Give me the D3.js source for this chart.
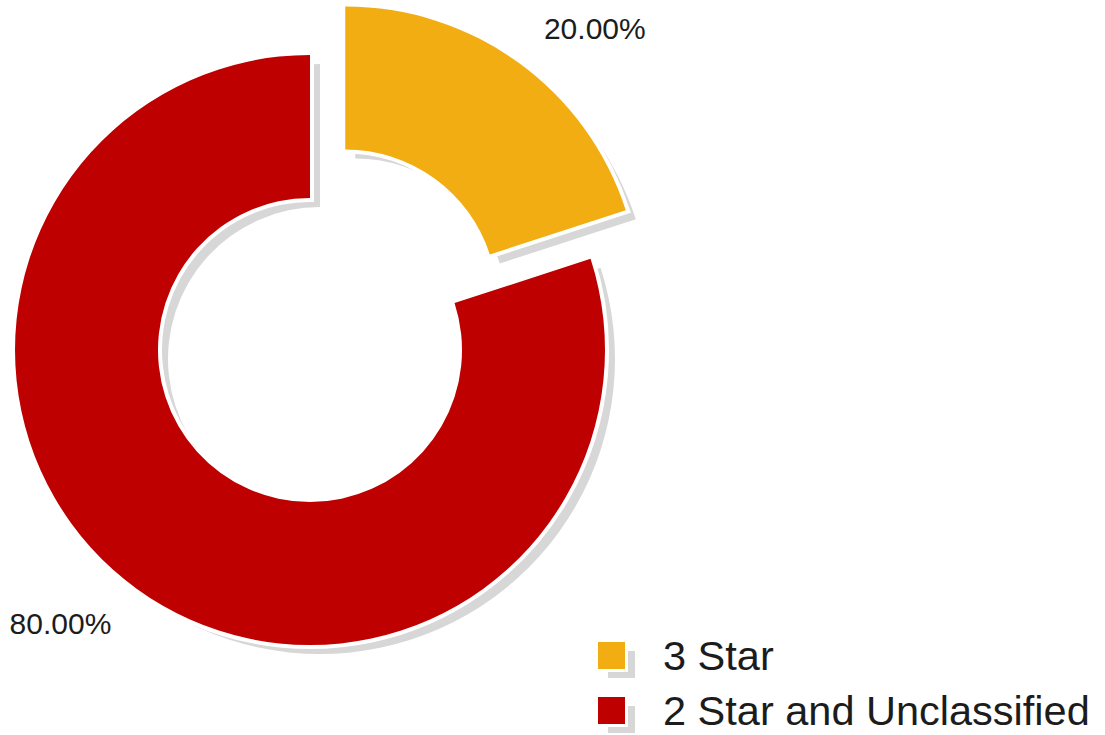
<!DOCTYPE html>
<html lang="en">
<head>
<meta charset="utf-8">
<script src="https://d3js.org/d3.v7.min.js"></script>
<style>
  body { margin: 0; background: #fff; }
  text { font-family: "Liberation Sans", Arial, sans-serif; fill: #1c1c1c; }
</style>
</head>
<body>
<script type="text/javascript">

// chart data
var categories = ["3 Star", "2 Star and Unclassified"];
var values = [20, 80];
var colors = ["#F1AD12", "#BE0000"];

var width = 1105;
var height = 735;

// donut geometry
var cx = 310, cy = 350;
var outerR = 295, innerR = 152;
var explodeBy = 60;       // only the first slice is pulled out
var labelR = 338;
var shadowDx = 10, shadowDy = 9;
var shadowColor = "#D7D7D7";

var svg = d3.select("body")
  .append("svg")
  .attr("width", width)
  .attr("height", height);

var total = d3.sum(values);
var fmt = d3.format(".2%");

var pie = d3.pie().sort(null).value(function(d) { return d; });
var arcs = pie(values);

var arc = d3.arc().innerRadius(innerR).outerRadius(outerR);

function midAngle(d) { return (d.startAngle + d.endAngle) / 2; }

function offset(d) {
  if (d.index !== 0) return [0, 0];
  var a = midAngle(d);
  return [Math.sin(a) * explodeBy, -Math.cos(a) * explodeBy];
}

var g = svg.append("g").attr("transform", "translate(" + cx + "," + cy + ")");

// shadows first
g.selectAll("path.shadow")
  .data(arcs)
  .enter()
  .append("path")
  .attr("class", "shadow")
  .attr("d", arc)
  .attr("fill", shadowColor)
  .attr("transform", function(d) {
    var o = offset(d);
    return "translate(" + (o[0] + shadowDx) + "," + (o[1] + shadowDy) + ")";
  });

// white outline to separate slice from its shadow
g.selectAll("path.gap")
  .data(arcs)
  .enter()
  .append("path")
  .attr("class", "gap")
  .attr("d", arc)
  .attr("fill", "#fff")
  .attr("stroke", "#fff")
  .attr("stroke-width", 8)
  .attr("stroke-linejoin", "miter")
  .attr("transform", function(d) {
    var o = offset(d);
    return "translate(" + o[0] + "," + o[1] + ")";
  });

g.selectAll("path.slice")
  .data(arcs)
  .enter()
  .append("path")
  .attr("class", "slice")
  .attr("d", arc)
  .attr("fill", function(d, i) { return colors[i]; })
  .attr("transform", function(d) {
    var o = offset(d);
    return "translate(" + o[0] + "," + o[1] + ")";
  });

// percentage labels
g.selectAll("text.pct")
  .data(arcs)
  .enter()
  .append("text")
  .attr("class", "pct")
  .attr("x", function(d) { return offset(d)[0] + Math.sin(midAngle(d)) * labelR; })
  .attr("y", function(d) { return offset(d)[1] - Math.cos(midAngle(d)) * labelR; })
  .attr("dy", "0.35em")
  .attr("text-anchor", function(d) { return Math.sin(midAngle(d)) >= 0 ? "start" : "end"; })
  .style("font-size", "30px")
  .text(function(d) { return fmt(d.value / total); });

// legend
var legend = svg.append("g").attr("transform", "translate(598,642)");
var rowH = 55, box = 27;

var items = legend.selectAll("g.item")
  .data(categories)
  .enter()
  .append("g")
  .attr("class", "item")
  .attr("transform", function(d, i) { return "translate(0," + (i * rowH) + ")"; });

items.append("rect")
  .attr("x", shadowDx).attr("y", shadowDy)
  .attr("width", box).attr("height", box)
  .attr("fill", shadowColor);

items.append("rect")
  .attr("width", box).attr("height", box)
  .attr("fill", function(d, i) { return colors[i]; })
  .attr("stroke", "#fff")
  .attr("stroke-width", 6)
  .attr("paint-order", "stroke");

items.append("text")
  .attr("x", 65)
  .attr("y", box / 2)
  .attr("dy", "0.36em")
  .style("font-size", "41.5px")
  .text(function(d) { return d; });

</script>
</body>
</html>
